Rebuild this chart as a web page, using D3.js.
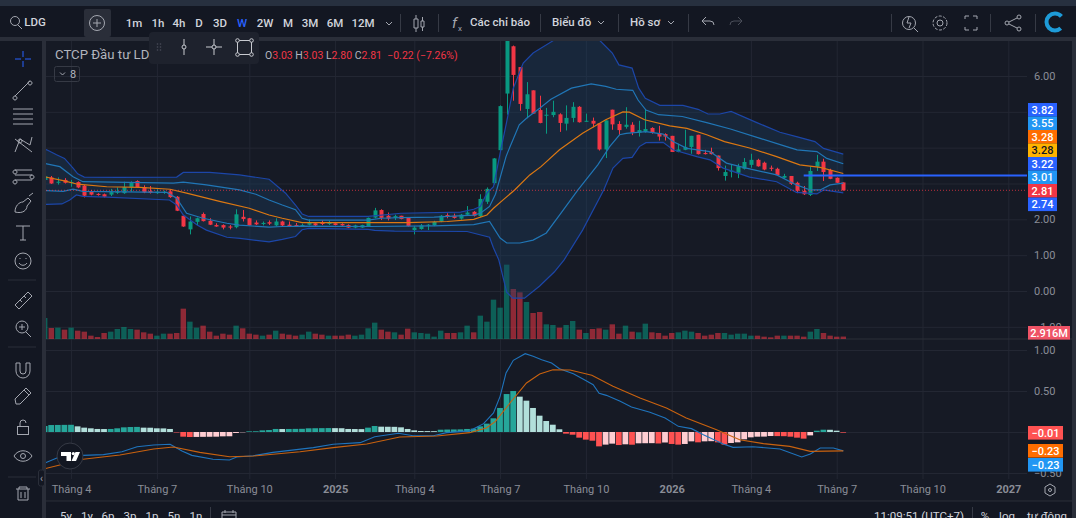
<!DOCTYPE html>
<head>
<meta charset="utf-8">
<script src="https://d3js.org/d3.v7.min.js"></script>
<style>
  html, body { margin: 0; background: #131722; overflow: hidden; }
  svg { display: block; font-family: Roboto, sans-serif; }
  .axis .domain { display: none; }
  .axis line { stroke: #232733; }
  .axis text { fill: #8a8d97; font-size: 11px; font-family: Roboto, sans-serif; }
  .ui { fill: #d1d4dc; font-size: 11.5px; font-weight: 500; }
  .icon { fill: none; stroke: #a4a7b0; stroke-width: 1; }
</style>
</head>
<body>
<svg id="chart" width="1076" height="518"></svg>
<script>
// weekly bars, index -1 is the sliver cut by the left edge
const candleOpen = [3.10,
  3.17,3.02,3.10,3.03,3.04,2.94,2.79,2.71,2.70,2.69,2.74,2.73,2.89,3.07,2.90,2.79,2.73,2.75,2.78,2.63,
  2.10,1.72,1.93,2.15,1.96,1.84,1.84,1.80,1.78,2.07,2.03,1.91,1.87,1.92,1.83,1.94,1.85,1.84,1.81,1.85,
  1.89,1.91,1.87,1.89,1.87,1.84,1.77,1.77,1.81,2.05,2.26,2.10,2.04,2.10,2.04,1.70,1.73,1.83,1.83,1.94,
  2.12,2.10,2.02,2.13,2.21,2.09,2.49,3.01,3.93,5.51,6.83,6.25,5.08,5.60,5.05,4.89,4.91,4.93,4.67,4.83,
  5.14,4.73,4.75,4.68,3.95,5.06,4.66,4.58,4.64,4.42,4.45,4.55,4.41,4.38,4.33,3.88,3.94,4.02,4.36,3.85,
  3.88,3.78,3.21,3.33,3.30,3.41,3.52,3.66,3.58,3.44,3.41,3.16,3.21,3.02,2.79,2.68,3.47,3.61,3.38,3.16,3.03];
const candleHigh = [3.22,
  3.21,3.17,3.15,3.10,3.06,2.96,2.82,2.73,2.72,2.85,2.89,3.05,3.06,3.09,2.95,2.93,2.84,2.80,2.84,2.65,
  2.10,2.08,2.05,2.19,2.03,1.89,1.86,1.84,2.28,2.26,2.04,1.97,1.94,1.97,2.03,1.96,1.94,1.90,1.88,2.00,
  1.92,1.97,1.96,1.90,1.89,1.86,1.85,1.85,2.05,2.32,2.28,2.19,2.13,2.10,2.05,1.81,1.87,1.87,1.96,2.12,
  2.17,2.16,2.15,2.37,2.23,2.70,2.89,3.71,5.18,7.50,6.85,6.25,5.83,5.60,5.45,5.11,5.31,4.96,5.18,5.27,
  5.16,4.95,4.84,4.68,4.76,5.06,4.74,5.13,4.71,4.75,5.06,4.57,4.61,4.40,4.33,4.11,4.50,4.33,4.36,3.94,
  4.00,3.78,3.50,3.52,3.55,3.71,3.83,3.69,3.61,3.50,3.44,3.27,3.21,3.05,2.93,3.47,3.80,3.69,3.41,3.17,3.03];
const candleLow = [3.08,
  2.99,2.97,3.00,2.91,2.87,2.61,2.67,2.66,2.61,2.65,2.71,2.71,2.77,2.88,2.73,2.72,2.71,2.71,2.60,2.23,
  1.79,1.58,1.84,1.94,1.84,1.79,1.72,1.72,1.75,1.94,1.83,1.84,1.83,1.84,1.81,1.81,1.81,1.81,1.79,1.83,
  1.81,1.84,1.84,1.83,1.82,1.76,1.75,1.76,1.81,2.03,1.98,1.97,1.98,2.00,1.80,1.58,1.71,1.70,1.81,1.92,
  2.03,2.02,1.99,2.12,2.08,2.06,2.43,2.97,3.92,4.92,5.31,5.03,4.82,4.94,4.68,4.39,4.85,4.44,4.48,4.71,
  4.70,4.72,4.57,3.92,3.71,4.50,4.36,4.53,4.35,4.31,4.42,4.39,4.20,4.20,3.88,3.87,3.93,3.83,3.81,3.81,
  3.81,3.36,3.08,3.17,3.15,3.39,3.44,3.47,3.37,3.35,3.22,3.14,2.96,2.73,2.68,2.65,3.35,3.07,3.12,3.01,2.80];
const candleClose = [3.20,
  3.00,3.05,3.02,3.04,2.89,2.66,2.69,2.68,2.63,2.76,2.77,2.90,3.02,2.90,2.75,2.74,2.77,2.77,2.62,2.24,
  1.80,1.94,2.03,1.95,1.85,1.80,1.77,1.77,2.14,2.01,1.83,1.86,1.90,1.88,1.94,1.83,1.81,1.81,1.84,1.91,
  1.83,1.87,1.91,1.84,1.83,1.77,1.83,1.84,2.04,2.25,2.04,2.02,2.09,2.01,1.81,1.77,1.83,1.85,1.93,2.10,
  2.07,2.04,2.13,2.19,2.10,2.57,2.85,3.70,5.16,7.30,6.03,5.22,5.49,4.95,4.69,4.92,5.00,4.69,4.83,5.14,
  4.71,4.75,4.67,3.95,4.76,4.65,4.49,4.64,4.42,4.49,4.52,4.41,4.31,4.31,3.88,3.95,4.02,4.33,3.82,3.82,
  3.82,3.43,3.32,3.36,3.48,3.60,3.66,3.48,3.39,3.41,3.23,3.21,2.99,2.80,2.70,3.35,3.61,3.32,3.13,3.02,2.81];
const volumeM = [25.2,
  13.2,13.6,11.2,13.6,10,8.8,4,2.4,7.2,8.8,12,14.4,12,11.2,8,6.4,4,6.4,6.4,7.2,
  36.4,20.8,13.6,16,8.8,4,6.4,5.2,16,12.8,6.4,5.2,4,5.2,10,6.4,5.2,4,5.2,8.8,
  6.4,5.2,4,4,4,5.2,4,5.2,12.8,19.6,11.2,8.8,8,5.2,12.4,8,7.2,6.4,2.8,10,
  7.2,7.2,8,16,8,28,20.8,47.2,37.6,89.2,60,56,44.4,31.2,32.4,17.6,16.8,13.6,16.8,21.6,
  11.2,7.2,12,12.8,11.2,17.6,6.4,16,8.8,8,18.4,8,7.2,4,7.2,8,10,8.8,7.2,4,
  5.2,7.2,7.2,5.2,6.4,6.4,4,4,2.8,2,4,4,4,4,2.8,8.8,12,7.2,4,2.8,2.916];
const macdHist = [.073,
  .085,.086,.087,.088,.069,.053,.045,.037,.036,.037,.045,.057,.061,.062,.053,.052,.045,.044,.037,-.006,
  -.057,-.061,-.060,-.059,-.058,-.057,-.053,-.052,-.012,-.004,.008,.009,.02,.024,.037,.036,.037,.038,.039,.045,
  .046,.047,.048,.047,.046,.037,.036,.035,.053,.073,.065,.064,.063,.057,.037,.02,.012,.011,.010,.028,
  .030,.031,.032,.037,.041,.069,.102,.167,.293,.463,.500,.431,.382,.293,.199,.134,.089,.033,-.020,-.033,
  -.069,-.093,-.106,-.175,-.154,-.142,-.159,-.150,-.155,-.138,-.137,-.136,-.140,-.128,-.146,-.154,-.146,-.114,-.126,-.114,
  -.112,-.126,-.154,-.134,-.126,-.089,-.065,-.057,-.056,-.049,-.050,-.051,-.057,-.069,-.081,-.041,.016,.028,.027,.016,-.008];

// band vertices: [bar, price]
const bbOuterUp = [[-1,3.96],[-0.7,3.94],[0.8,3.80],[2,3.70],[3.3,3.43],[4,3.27],[5,3.18],[10,3.17],[19,3.18],[20,3.31],[24,3.31],[28.5,3.24],[33,3.12],
  [35.5,2.73],[37,2.40],[38,2.15],[39,2.08],[48,2.08],[53,2.17],[62,2.20],[64,2.28],[65,2.36],[66,2.73],[67,2.91],[68,3.84],[69,4.73],[70,5.66],[71.5,6.36],
  [73,6.64],[76,6.98],[79,7.45],[80.5,7.6],[83,7.01],[85,6.64],[86,6.31],[88,6.22],[89,5.66],[90,5.38],[92.2,5.18],[95.7,5.18],[98,5.07],[99.5,4.94],[101.3,4.94],
  [103,5.01],[106.9,4.70],[110.4,4.43],[112.9,4.31],[115.7,4.17],[117,3.98],[120,3.82]];
const bbInnerUp = [[-1,3.56],[-0.7,3.55],[1.3,3.47],[3.3,3.19],[4.8,3.05],[18.5,3.01],[20,3.04],[23.5,2.96],[28.5,2.82],[31,2.70],[33,2.54],
  [35,2.40],[37,2.27],[38,2.03],[39,1.98],[48,1.98],[50,2.03],[53,2.05],[58,2.06],[64,2.12],[65,2.17],[66.4,2.36],[67.3,2.70],[68.2,3.29],[68.9,3.75],[69.2,3.89],
  [70.9,4.64],[72,4.82],[74,5.10],[75.7,5.35],[78.8,5.66],[81.8,5.78],[84,5.71],[85.6,5.63],[88.1,5.60],[88.9,5.33],[90.1,5.05],[92,4.92],[95.6,4.87],[99.3,4.70],
  [102.9,4.52],[107.4,4.26],[111.4,4.03],[113,3.94],[116,3.89],[117.5,3.70],[120,3.55]];
const bbBasis = [[-1,3.18],[-0.7,3.175],[1.8,3.08],[4,2.98],[8.4,2.91],[13.4,2.89],[18,2.84],[20.5,2.73],[25.5,2.50],[30,2.31],[33,2.12],
  [35,2.03],[38,1.91],[48,1.91],[54,1.91],[60,1.94],[64,2.00],[66,2.12],[67,2.31],[68.5,2.55],[70.2,2.82],[72.5,3.24],[74.2,3.47],[77,3.94],[80.5,4.40],[84,4.78],
  [86.6,5.00],[87.6,4.99],[89.9,4.78],[93.7,4.61],[96.3,4.54],[99.3,4.36],[102,4.17],[105.8,3.99],[109.9,3.75],[113.4,3.52],[116.5,3.45],[120,3.28]];
const bbInnerLow = [[-1,2.80],[-0.7,2.80],[1.8,2.78],[3.3,2.84],[4.8,2.78],[17.5,2.75],[19,2.59],[20.5,2.17],[23,2.03],[26.6,1.89],[28.5,1.84],[33,1.78],
  [35,1.80],[38,1.81],[48,1.80],[58,1.82],[64,1.85],[66.4,1.94],[68,1.48],[69,1.34],[71,1.34],[73,1.42],[75,1.62],[77,2.12],[79.8,2.82],[82.8,3.52],[84.6,4.03],
  [86.1,4.36],[87.1,4.40],[90.1,4.45],[92.7,4.38],[94.2,4.17],[96.3,3.98],[99.8,3.89],[102.3,3.57],[105.3,3.43],[109.9,3.24],[112.9,2.96],[115,2.82],[116.5,2.82],[118,2.96],[120,3.01]];
const bbOuterLow = [[-1,2.42],[-0.7,2.42],[1.6,2.43],[2.8,2.54],[3.8,2.68],[4.8,2.64],[8.4,2.62],[17.9,2.54],[19,2.40],[20,2.12],[22.1,1.84],[23.5,1.70],[26.6,1.50],
  [28.6,1.47],[33,1.37],[35,1.44],[37,1.52],[38,1.71],[39,1.75],[48,1.72],[49,1.69],[52,1.67],[63,1.66],[66.4,1.50],[67,1.2],[67.8,0.87],[69,-0.03],[69.9,-0.2],
  [71.7,-0.2],[74,0.14],[76.2,0.53],[77.7,0.87],[80.5,1.7],[83.7,2.82],[85.1,3.43],[86.6,3.70],[88,3.73],[89.1,4.03],[90.1,4.14],[92.7,4.15],[94.2,3.94],[97.8,3.75],
  [99.8,3.66],[101.8,3.43],[105.8,3.18],[109.9,3.05],[112.9,2.75],[116,2.71],[117,2.82],[120,2.74]];

const macdLine = [[-1,-.38],[-0.7,-.37],[1.3,-.301],[4.8,-.285],[7.9,-.276],[10.7,-.24],[13,-.179],[15.5,-.159],[18,-.15],[19.8,-.232],[21.3,-.285],[24.5,-.333],[27,-.341],
  [28.1,-.305],[30.6,-.289],[33.6,-.248],[39.7,-.191],[42.7,-.15],[46.8,-.13],[49,-.057],[52.6,-.016],[54.8,-.045],[57.9,-.045],[59.9,-.008],[63.4,.014],[65.5,.102],
  [67,.232],[68,.435],[68.9,.72],[70,.874],[71.8,.955],[73,.923],[74.3,.882],[75.8,.841],[77,.772],[79.1,.711],[80.9,.63],[82.1,.577],[83,.472],[84.1,.447],[86.2,.374],
  [87.9,.305],[90.7,.24],[93,.171],[95,.069],[97,.041],[98.8,-.033],[101.8,-.146],[103.3,-.187],[106.3,-.179],[110.4,-.207],[113.7,-.305],[115,-.268],[116.5,-.195],[118.5,-.195],[120,-.23]];
const macdSignal = [[-1,-.45],[-0.7,-.443],[4.8,-.333],[10.4,-.28],[15.5,-.207],[18.5,-.183],[22.5,-.248],[27,-.301],[30.6,-.293],[37.7,-.24],[42.7,-.191],[47.8,-.146],
  [52.8,-.061],[58.4,-.049],[63.4,-.008],[65.9,.049],[67.3,.13],[69.5,.354],[72,.598],[74,.707],[76,.76],[78.6,.756],[81.9,.691],[85.1,.557],[89.2,.415],[93.2,.293],
  [96.2,.171],[100.8,.028],[104.3,-.094],[107.9,-.142],[111.9,-.175],[115,-.236],[120,-.23]];

const timeTicks = [3,16,30,43,55,68,81,94,106,119,132,145];
const timeLabels = ["Tháng 4","Tháng 7","Tháng 10","2025","Tháng 4","Tháng 7","Tháng 10","2026","Tháng 4","Tháng 7","Tháng 10","2027"];
const priceTicks = [6,5,4,3,2,1,0,-1];
const priceHidden = [5,4,3]; // these sit under the price tags
const macdTicks = [1,0.5,0,-0.5];
const macdHidden = [0];
const priceTags = [["3.82","#2962ff"],["3.55","#2196f3"],["3.28","#ff6d00"],["3.28","#ffb300"],["3.22","#2962ff"],["3.01","#2196f3"],["2.81","#f23645"],["2.74","#2962ff"]];
const intervals = [["1m",134],["1h",158],["4h",179],["D",199],["3D",220],["W",242],["2W",265],["M",288],["3M",310],["6M",335],["12M",363]];
const rangeButtons = [["5y",66],["1y",87],["6p",108],["3p",130],["1p",152],["5n",174],["1n",196]];
const rayPrice = 3.22, lastClose = 2.81;

const green = "#089981", red = "#f23645";
const svg = d3.select("#chart");
const plotL = 46, plotR = 1027, top1 = 41, bot1 = 339, bot2 = 479;

svg.append("rect").attr("width", 1076).attr("height", 518).attr("fill", "#131722");
svg.append("rect").attr("width", 1076).attr("height", 6).attr("fill", "#27303f");
svg.append("rect").attr("y", 37).attr("width", 1076).attr("height", 4).attr("fill", "#2a2e39");
svg.append("rect").attr("x", 42).attr("y", 41).attr("width", 4).attr("height", 477).attr("fill", "#2a2e39");
svg.append("rect").attr("x", plotL).attr("y", top1).attr("width", 1026).attr("height", 460).attr("fill", "#161a25");

const x = d3.scaleLinear().domain([-1, 120]).range([44.7, 843.3]);
const y = d3.scaleLinear().domain([0, 6]).range([291, 76]);
const yVol = d3.scaleLinear().domain([0, 90]).range([bot1, bot1 - 75]);
const yMacd = d3.scaleLinear().domain([-0.5, 1]).range([473, 350]);

svg.append("defs").append("clipPath").attr("id", "clipTop")
  .append("rect").attr("x", plotL).attr("y", top1).attr("width", plotR - plotL + 45).attr("height", bot1 - top1);
svg.select("defs").append("clipPath").attr("id", "clipBottom")
  .append("rect").attr("x", plotL).attr("y", bot1).attr("width", plotR - plotL + 45).attr("height", bot2 - bot1);

// The grid and the axes.
const fmt = d3.format(".2f");
const tickText = hidden => d => hidden.includes(d) ? "" : fmt(d).replace("-", "−");
svg.append("g").attr("class", "axis").attr("transform", `translate(0,${bot1})`)
  .call(d3.axisTop(x).tickValues(timeTicks).tickSize(bot1 - top1).tickFormat(""));
svg.append("g").attr("class", "axis").attr("transform", `translate(0,${bot2})`)
  .call(d3.axisTop(x).tickValues(timeTicks).tickSize(bot2 - bot1).tickFormat(""));
svg.append("g").attr("class", "axis").attr("transform", `translate(0,${bot2})`)
  .call(d3.axisBottom(x).tickValues(timeTicks).tickSize(0).tickPadding(6).tickFormat((d, i) => timeLabels[i]))
  .selectAll("text").style("font-weight", (d, i) => /^\d/.test(timeLabels[i]) ? 700 : 400);
svg.append("g").attr("class", "axis").attr("transform", `translate(${plotR},0)`)
  .call(d3.axisRight(y).tickValues(priceTicks).tickSize(-(plotR - plotL)).tickPadding(7).tickFormat(tickText(priceHidden)));
svg.append("g").attr("class", "axis").attr("transform", `translate(${plotR},0)`)
  .call(d3.axisRight(yMacd).tickValues(macdTicks).tickSize(-(plotR - plotL)).tickPadding(7).tickFormat(tickText(macdHidden)));
svg.append("line").attr("x1", plotL).attr("x2", 1072).attr("y1", bot1).attr("y2", bot1).attr("stroke", "#2a2e39");
svg.append("line").attr("x1", plotL).attr("x2", 1072).attr("y1", 501).attr("y2", 501).attr("stroke", "#2a2e39");
svg.append("rect").attr("x", 1072).attr("y", top1).attr("width", 4).attr("height", 477).attr("fill", "#2a2e39");

// The volume bars.
const barData = d3.range(candleOpen.length).map(k => ({
  i: k - 1, o: candleOpen[k], h: candleHigh[k], l: candleLow[k], c: candleClose[k], v: volumeM[k], m: macdHist[k], mPrev: k ? macdHist[k - 1] : 0
}));
const panePrice = svg.append("g").attr("clip-path", "url(#clipTop)");
panePrice.selectAll("rect.vol").data(barData).join("rect").attr("class", "vol")
  .attr("x", d => x(d.i) - 2.7).attr("width", 5.4)
  .attr("y", d => yVol(d.v)).attr("height", d => bot1 - yVol(d.v))
  .attr("fill", d => d.c >= d.o ? green : red).attr("opacity", 0.55);

// The Bollinger fill.
panePrice.append("path")
  .attr("d", d3.line().x(d => x(d[0])).y(d => y(d[1]))(bbOuterUp.concat(bbOuterLow.slice().reverse())))
  .attr("fill", "#1b3f63").attr("opacity", 0.36);

// The candles.
panePrice.selectAll("line.wick").data(barData).join("line").attr("class", "wick")
  .attr("x1", d => Math.round(x(d.i)) + 0.5).attr("x2", d => Math.round(x(d.i)) + 0.5)
  .attr("y1", d => y(d.h)).attr("y2", d => y(d.l))
  .attr("stroke", d => d.c >= d.o ? green : red);
panePrice.selectAll("rect.body").data(barData).join("rect").attr("class", "body")
  .attr("x", d => Math.round(x(d.i)) - 1.5).attr("width", 4)
  .attr("y", d => y(Math.max(d.o, d.c)))
  .attr("height", d => Math.max(1, Math.abs(y(d.o) - y(d.c))))
  .attr("fill", d => d.c >= d.o ? green : red);

// The bands.
const bands = [[bbOuterUp, "#1c46a8", 1.2], [bbInnerUp, "#2076b6", 1.2], [bbInnerLow, "#2076b6", 1.2], [bbOuterLow, "#1c46a8", 1.2], [bbBasis, "#dc7812", 1.2]];
bands.forEach(b => {
  panePrice.append("path").attr("d", d3.line().x(d => x(d[0])).y(d => y(d[1]))(b[0]))
    .attr("fill", "none").attr("stroke", b[1]).attr("stroke-width", b[2]);
});

// Last price and the ray.
svg.append("line").attr("x1", plotL).attr("x2", plotR).attr("y1", y(lastClose)).attr("y2", y(lastClose))
  .attr("stroke", red).attr("stroke-dasharray", "1 2").attr("opacity", 0.75);
svg.append("line").attr("x1", x(114)).attr("x2", plotR).attr("y1", y(rayPrice)).attr("y2", y(rayPrice))
  .attr("stroke", "#2962ff").attr("stroke-width", 2);

// The MACD pane.
const paneMacd = svg.append("g").attr("clip-path", "url(#clipBottom)");
paneMacd.selectAll("rect.hist").data(barData).join("rect").attr("class", "hist")
  .attr("x", d => x(d.i) - 3).attr("width", 5.8)
  .attr("y", d => Math.min(yMacd(d.m), yMacd(0)))
  .attr("height", d => Math.abs(yMacd(d.m) - yMacd(0)))
  .attr("fill", d => d.m >= 0 ? (d.m > d.mPrev ? "#26a69a" : "#b2dfdb") : (d.m < d.mPrev ? "#ff5252" : "#ffcdd2"));
[[macdLine, "#1f74bd"], [macdSignal, "#c9620f"]].forEach(b => {
  paneMacd.append("path").attr("d", d3.line().x(d => x(d[0])).y(d => yMacd(d[1]))(b[0]))
    .attr("fill", "none").attr("stroke", b[1]).attr("stroke-width", 1.1);
});

// Price tags on the right.
function tag(label, tagTop, w, color, textColor) {
  svg.append("rect").attr("x", 1028).attr("y", tagTop).attr("width", w).attr("height", 13.6).attr("fill", color);
  svg.append("text").attr("x", 1028 + w / 2).attr("y", tagTop + 10.6).attr("text-anchor", "middle")
    .attr("fill", textColor || "#fff").attr("font-size", 11).attr("font-weight", 500).text(label);
}
priceTags.forEach((t, i) => tag(t[0], 103 + i * 13.5, 29, t[1], t[1] === "#ffb300" ? "#131722" : "#fff"));
tag("2.916M", 326, 42, "#ef5366");
tag("−0.01", 426, 35, "#ff5252");
tag("−0.23", 444, 35, "#ff6d00");
tag("−0.23", 458, 35, "#2196f3");

// Legend.
svg.append("text").attr("x", 55).attr("y", 59).attr("fill", "#b2b5be").attr("font-size", 13.2).text("CTCP Đầu tư LDG");
const legend = svg.append("text").attr("x", 265).attr("y", 59).attr("font-size", 10.5).attr("fill", red);
[["O", 1], ["3.03", 0], [" H", 1], ["3.03", 0], [" L", 1], ["2.80", 0], [" C", 1], ["2.81", 0], ["  −0.22 (−7.26%)", 0]].forEach(p => {
  legend.append("tspan").attr("fill", p[1] ? "#b2b5be" : red).attr("xml:space", "preserve").text(p[0]);
});
svg.append("rect").attr("x", 54.5).attr("y", 66.5).attr("width", 25).attr("height", 15).attr("rx", 2).attr("fill", "none").attr("stroke", "#363a45");
svg.append("path").attr("class", "icon").attr("d", "M60 72.5l2.5 2.5 2.5-2.5");
svg.append("text").attr("x", 70).attr("y", 78).attr("fill", "#b2b5be").attr("font-size", 11).text("8");

// Top toolbar.
svg.append("rect").attr("y", 6).attr("width", 1076).attr("height", 31).attr("fill", "#131722");
const uiText = (t, px, py, color, weight) => svg.append("text").attr("class", "ui").attr("x", px).attr("y", py)
  .attr("text-anchor", "middle").style("fill", color || "#d1d4dc").style("font-weight", weight || 500).text(t);
const icon = (d, color) => svg.append("path").attr("class", "icon").attr("d", d).style("stroke", color || "#a4a7b0");
svg.append("circle").attr("class", "icon").attr("cx", 15).attr("cy", 21).attr("r", 4.5);
icon("M18 25l4 4");
uiText("LDG", 35, 26, "#d1d4dc");
svg.append("rect").attr("x", 84).attr("y", 9).attr("width", 27).attr("height", 28).attr("rx", 2).attr("fill", "#2a2e39");
svg.append("circle").attr("class", "icon").attr("cx", 97).attr("cy", 23).attr("r", 7.5);
icon("M97 19v8M93 23h8");
intervals.forEach(d => uiText(d[0], d[1], 27, d[0] === "W" ? "#2962ff" : "#d1d4dc"));
[400, 438, 540, 618, 688, 891, 990, 1035].forEach(s => {
  svg.append("line").attr("x1", s + .5).attr("x2", s + .5).attr("y1", 14).attr("y2", 32).attr("stroke", "#363a45");
});
[[389, 23], [601, 22], [671, 22]].forEach(c => icon(`M${c[0] - 3} ${c[1] - 1}l3 3 3-3`));
icon("M414 19h4v9h-4zM416 15v4M416 28v4M421 21h3v6h-3zM422.5 17v4M422.5 27v4");
svg.append("text").attr("x", 452).attr("y", 28).attr("fill", "#a4a7b0").attr("font-size", 15).attr("font-style", "italic").text("f");
svg.append("text").attr("x", 458).attr("y", 31).attr("fill", "#a4a7b0").attr("font-size", 8).text("x");
svg.append("text").attr("class", "ui").attr("x", 470).attr("y", 26).text("Các chỉ báo");
svg.append("text").attr("class", "ui").attr("x", 552).attr("y", 26).text("Biểu đồ");
svg.append("text").attr("class", "ui").attr("x", 630).attr("y", 26).text("Hồ sơ");
icon("M702 21h8a4 4 0 0 1 4 4M706 17l-4 4 4 4");
icon("M742 21h-8a4 4 0 0 0-4 4M738 17l4 4-4 4", "#4a4e59");
svg.append("circle").attr("class", "icon").attr("cx", 909).attr("cy", 23).attr("r", 6.5);
icon("M914 28l4 4M909 17l-2 6h4l-2 5");
svg.append("circle").attr("class", "icon").attr("cx", 940).attr("cy", 23).attr("r", 3);
svg.append("circle").attr("class", "icon").attr("cx", 940).attr("cy", 23).attr("r", 7).attr("stroke-dasharray", "3 1.5");
icon("M965 19v-3h4M973 16h4v3M977 27v3h-4M969 30h-4v-3");
svg.append("circle").attr("class", "icon").attr("cx", 1019).attr("cy", 17).attr("r", 2);
svg.append("circle").attr("class", "icon").attr("cx", 1019).attr("cy", 29).attr("r", 2);
svg.append("circle").attr("class", "icon").attr("cx", 1007).attr("cy", 23).attr("r", 2);
icon("M1009 22l8-4M1009 24l8 4");
svg.append("circle").attr("cx", 1055).attr("cy", 22).attr("r", 8.5).attr("fill", "none").attr("stroke", "#1e9bd8").attr("stroke-width", 4).attr("stroke-dasharray", "40 14").attr("stroke-dashoffset", -7);

// Floating drawing toolbar.
svg.append("rect").attr("x", 149).attr("y", 32).attr("width", 110).attr("height", 32).attr("rx", 4).attr("fill", "#1e222d");
icon("M184 39v6M184 49v6", "#c8cad0");
svg.append("circle").attr("class", "icon").attr("cx", 184).attr("cy", 47).attr("r", 2).style("stroke", "#c8cad0");
icon("M206 47h6M216 47h6M214 39v6M214 49v6", "#c8cad0");
svg.append("circle").attr("class", "icon").attr("cx", 214).attr("cy", 47).attr("r", 2).style("stroke", "#c8cad0");
svg.append("rect").attr("class", "icon").attr("x", 237.5).attr("y", 40.5).attr("width", 14).attr("height", 14).style("stroke", "#c8cad0");
[[237.5, 40.5], [251.5, 40.5], [237.5, 54.5], [251.5, 54.5]].forEach(c => {
  svg.append("circle").attr("cx", c[0]).attr("cy", c[1]).attr("r", 1.8).attr("fill", "#1e222d").attr("stroke", "#c8cad0");
});
d3.range(3).forEach(r => d3.range(2).forEach(c => {
  svg.append("circle").attr("cx", 157.5 + c * 3).attr("cy", 44 + r * 3).attr("r", .8).attr("fill", "#4a4e59");
}));

// Left toolbar.
svg.append("rect").attr("y", 41).attr("width", 42).attr("height", 477).attr("fill", "#131722");
icon("M23 51v6M23 61v6M15 59h6M25 59h6", "#2962ff");
icon("M15 96L30 81M15 96a2 2 0 1 0 .01 0M30 81a2 2 0 1 0 .01 0");
icon("M13 109h20M13 114h20M13 119h20M13 124h20");
icon("M15 152l5-13 10 6 2-8M15 139l17 13M20 139a2 2 0 1 0 .01 0");
icon("M15 170h17M15 175h17M15 180h17M15 170a2 2 0 1 0 .01 0M32 175a2 2 0 1 0 .01 0M15 180a2 2 0 1 0 .01 0");
icon("M15 212c0-6 4-10 8-10l5-4 3 3-4 5c0 4-4 8-12 6zM29 196l4-3");
icon("M16 226h14M23 226v14M20 240h6");
svg.append("circle").attr("class", "icon").attr("cx", 23).attr("cy", 261).attr("r", 8);
icon("M19 263c2 3 6 3 8 0M20 258v1M26 258v1");
icon("M15 305l13-13 4 4-13 13zM20 300l2 2M24 296l2 2");
svg.append("circle").attr("class", "icon").attr("cx", 22).attr("cy", 327).attr("r", 6);
icon("M26 332l5 5M19 327h6M22 324v6");
icon("M16 363v8a7 7 0 0 0 14 0v-8h-4v8a3 3 0 0 1-6 0v-8z");
icon("M16 404l-1-5 11-11 5 5-11 11zM24 390l5 5");
svg.append("rect").attr("class", "icon").attr("x", 17.5).attr("y", 426.5).attr("width", 11).attr("height", 8);
icon("M20 426v-3a3 3 0 0 1 6 0");
icon("M14 456c4-7 14-7 18 0c-4 7-14 7-18 0z");
svg.append("circle").attr("class", "icon").attr("cx", 23).attr("cy", 456).attr("r", 2.5);
icon("M16 489h14M19 489v-2h8v2M18 489v11h10v-11M21 492v6M25 492v6");
[280, 347, 477].forEach(s => svg.append("line").attr("x1", 8).attr("x2", 36).attr("y1", s).attr("y2", s).attr("stroke", "#2a2e39"));
svg.append("rect").attr("x", 38.5).attr("y", 470).attr("width", 6).attr("height", 16).attr("rx", 2).attr("fill", "#131722").attr("stroke", "#2a2e39");
svg.append("text").attr("x", 40).attr("y", 482).attr("fill", "#a4a7b0").attr("font-size", 10).text("‹");

// Logo badge and bottom bar.
svg.append("circle").attr("cx", 70).attr("cy", 456).attr("r", 13).attr("fill", "#131722").attr("stroke", "#363a45");
svg.append("path").attr("d", "M61 452h10v9h-4.5v-5H61zM80 452l-4 9h-4.5l4-9z").attr("fill", "#fff");
svg.append("circle").attr("cx", 73.3).attr("cy", 453.6).attr("r", 1.6).attr("fill", "#fff");
svg.append("rect").attr("x", plotL).attr("y", 502).attr("width", 1026).attr("height", 16).attr("fill", "#131722");
rangeButtons.forEach(d => uiText(d[0], d[1], 520, "#d1d4dc", 400));
svg.append("line").attr("x1", 210.5).attr("x2", 210.5).attr("y1", 507).attr("y2", 518).attr("stroke", "#363a45");
icon("M222 512h14v8h-14zM222 515h14M225 510v3M233 510v3");
uiText("11:09:51 (UTC+7)", 919, 520, "#d1d4dc", 400);
svg.append("line").attr("x1", 972.5).attr("x2", 972.5).attr("y1", 507).attr("y2", 518).attr("stroke", "#363a45");
uiText("%", 985, 520, "#d1d4dc", 400);
uiText("log", 1007, 520, "#d1d4dc", 400);
uiText("tự động", 1047, 520, "#d1d4dc", 400);
icon("M1050 484l5 3v6l-5 3-5-3v-6z");
svg.append("circle").attr("class", "icon").attr("cx", 1050).attr("cy", 490).attr("r", 1.5);
</script>
</body>
